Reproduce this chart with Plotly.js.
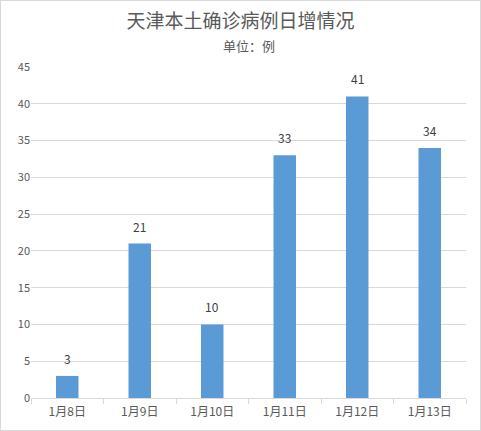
<!DOCTYPE html>
<html>
<head>
<meta charset="utf-8">
<script src="https://cdn.plot.ly/plotly-3.0.1.min.js"></script>
<style>
  html, body { margin: 0; padding: 0; background: #fff; }
  #chart { width: 481px; height: 431px; box-sizing: border-box; border: 1px solid #d9d9d9; }
</style>
</head>
<body>
<div id="chart"></div>
<script>
// 天津本土确诊病例日增情况（单位：例）
const dates = ['1月8日', '1月9日', '1月10日', '1月11日', '1月12日', '1月13日'];
const cases = [3, 21, 10, 33, 41, 34];
const yTicks = [0, 5, 10, 15, 20, 25, 30, 35, 40, 45];

const FONT = '"Microsoft YaHei", "Noto Sans CJK SC", sans-serif';
const GREY = '#595959';

const data = [{
    type: 'bar',
    x: dates,
    y: cases,
    width: 0.31,
    marker: { color: '#5b9bd5' },
    hoverinfo: 'x+y',
}];

// etichette dei valori sopra le barre, un po' staccate come nell'originale
const valueLabels = dates.map((d, i) => ({
    x: d, y: cases[i],
    xref: 'x', yref: 'y',
    text: String(cases[i]),
    showarrow: false,
    yanchor: 'bottom',
    yshift: 7,
    font: { family: FONT, size: 12, color: '#404040' },
}));

const layout = {
    width: 479,
    height: 429,
    margin: { l: 30, r: 14, t: 66, b: 32 },
    paper_bgcolor: '#fff',
    plot_bgcolor: '#fff',
    font: { family: FONT, color: GREY },
    title: {
        text: '天津本土确诊病例日增情况',
        font: { family: FONT, size: 19, color: GREY },
        x: 0.5, xanchor: 'center',
        y: 0.953, yanchor: 'middle', yref: 'container',
    },
    annotations: [{
        text: '单位：例',
        xref: 'paper', yref: 'paper',
        x: 0.5, y: 1.066, xanchor: 'center', yanchor: 'middle',
        showarrow: false,
        font: { family: FONT, size: 13, color: GREY },
    }, ...valueLabels],
    xaxis: {
        type: 'category',
        tickson: 'boundaries',
        ticks: 'outside',
        ticklen: 5,
        tickcolor: '#d9d9d9',
        ticklabelstandoff: 3,
        showline: true,
        linecolor: '#d9d9d9',
        showgrid: false,
        tickfont: { family: FONT, size: 12, color: GREY },
    },
    yaxis: {
        range: [0, 45],
        tickvals: yTicks,
        showgrid: true,
        gridcolor: '#d9d9d9',
        zeroline: false,
        showline: false,
        ticks: '',
        tickfont: { family: FONT, size: 11, color: GREY },
    },
    showlegend: false,
};

Plotly.newPlot('chart', data, layout, { displayModeBar: false, staticPlot: true });
</script>
</body>
</html>
